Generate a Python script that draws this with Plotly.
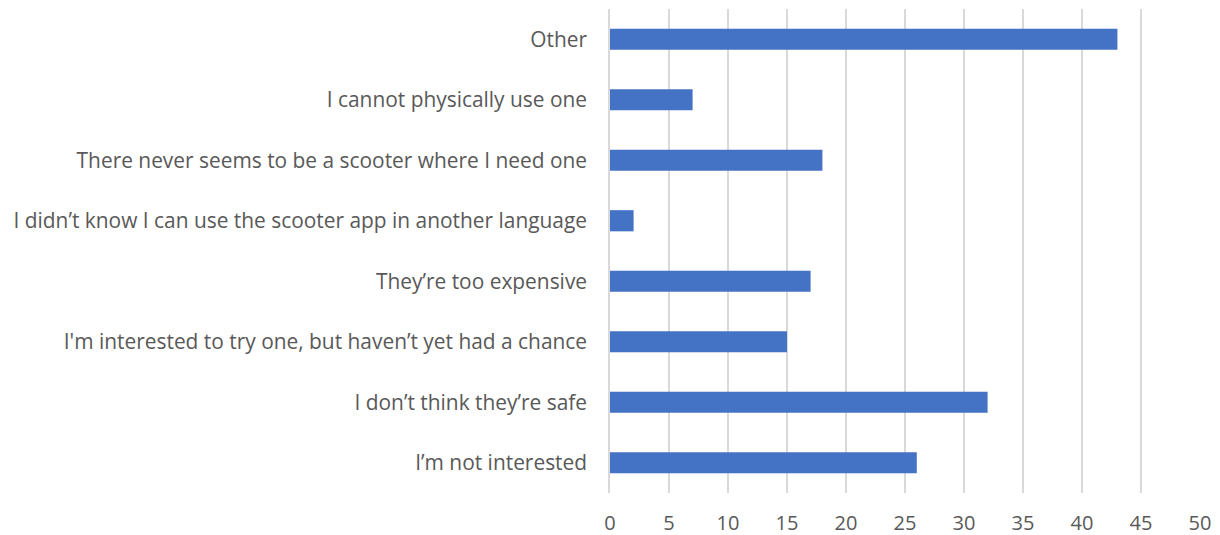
import plotly.graph_objects as go

categories = [
    "I’m not interested",
    "I don’t think they’re safe",
    "I'm interested to try one, but haven’t yet had a chance",
    "They’re too expensive",
    "I didn’t know I can use the scooter app in another language",
    "There never seems to be a scooter where I need one",
    "I cannot physically use one",
    "Other",
]
values = [26, 32, 15, 17, 2, 18, 7, 43]
x_ticks = [0, 5, 10, 15, 20, 25, 30, 35, 40, 45, 50]

fig = go.Figure(go.Bar(
    x=values, y=categories, orientation="h",
    marker=dict(color="#4472C4", line=dict(width=0)),
))
fig.update_layout(
    width=1212, height=527,
    margin=dict(l=602, r=20, t=1, b=42),
    paper_bgcolor="white", plot_bgcolor="white",
    bargap=0.65,
    showlegend=False,
    font=dict(family="Open Sans", size=20, color="#595959"),
)
fig.update_xaxes(
    range=[0, 50], tickvals=x_ticks, showgrid=True, gridcolor="#D9D9D9", gridwidth=1.5,
    zeroline=False, showline=False, ticks="", ticklabelstandoff=16,
    tickfont=dict(size=20), automargin=False,
)
fig.update_yaxes(
    showgrid=False, zeroline=False, showline=True, linecolor="#D9D9D9", linewidth=1.5,
    ticks="", ticklabelstandoff=17, tickfont=dict(size=20.9), automargin=False,
)
fig.write_html("out.html")
